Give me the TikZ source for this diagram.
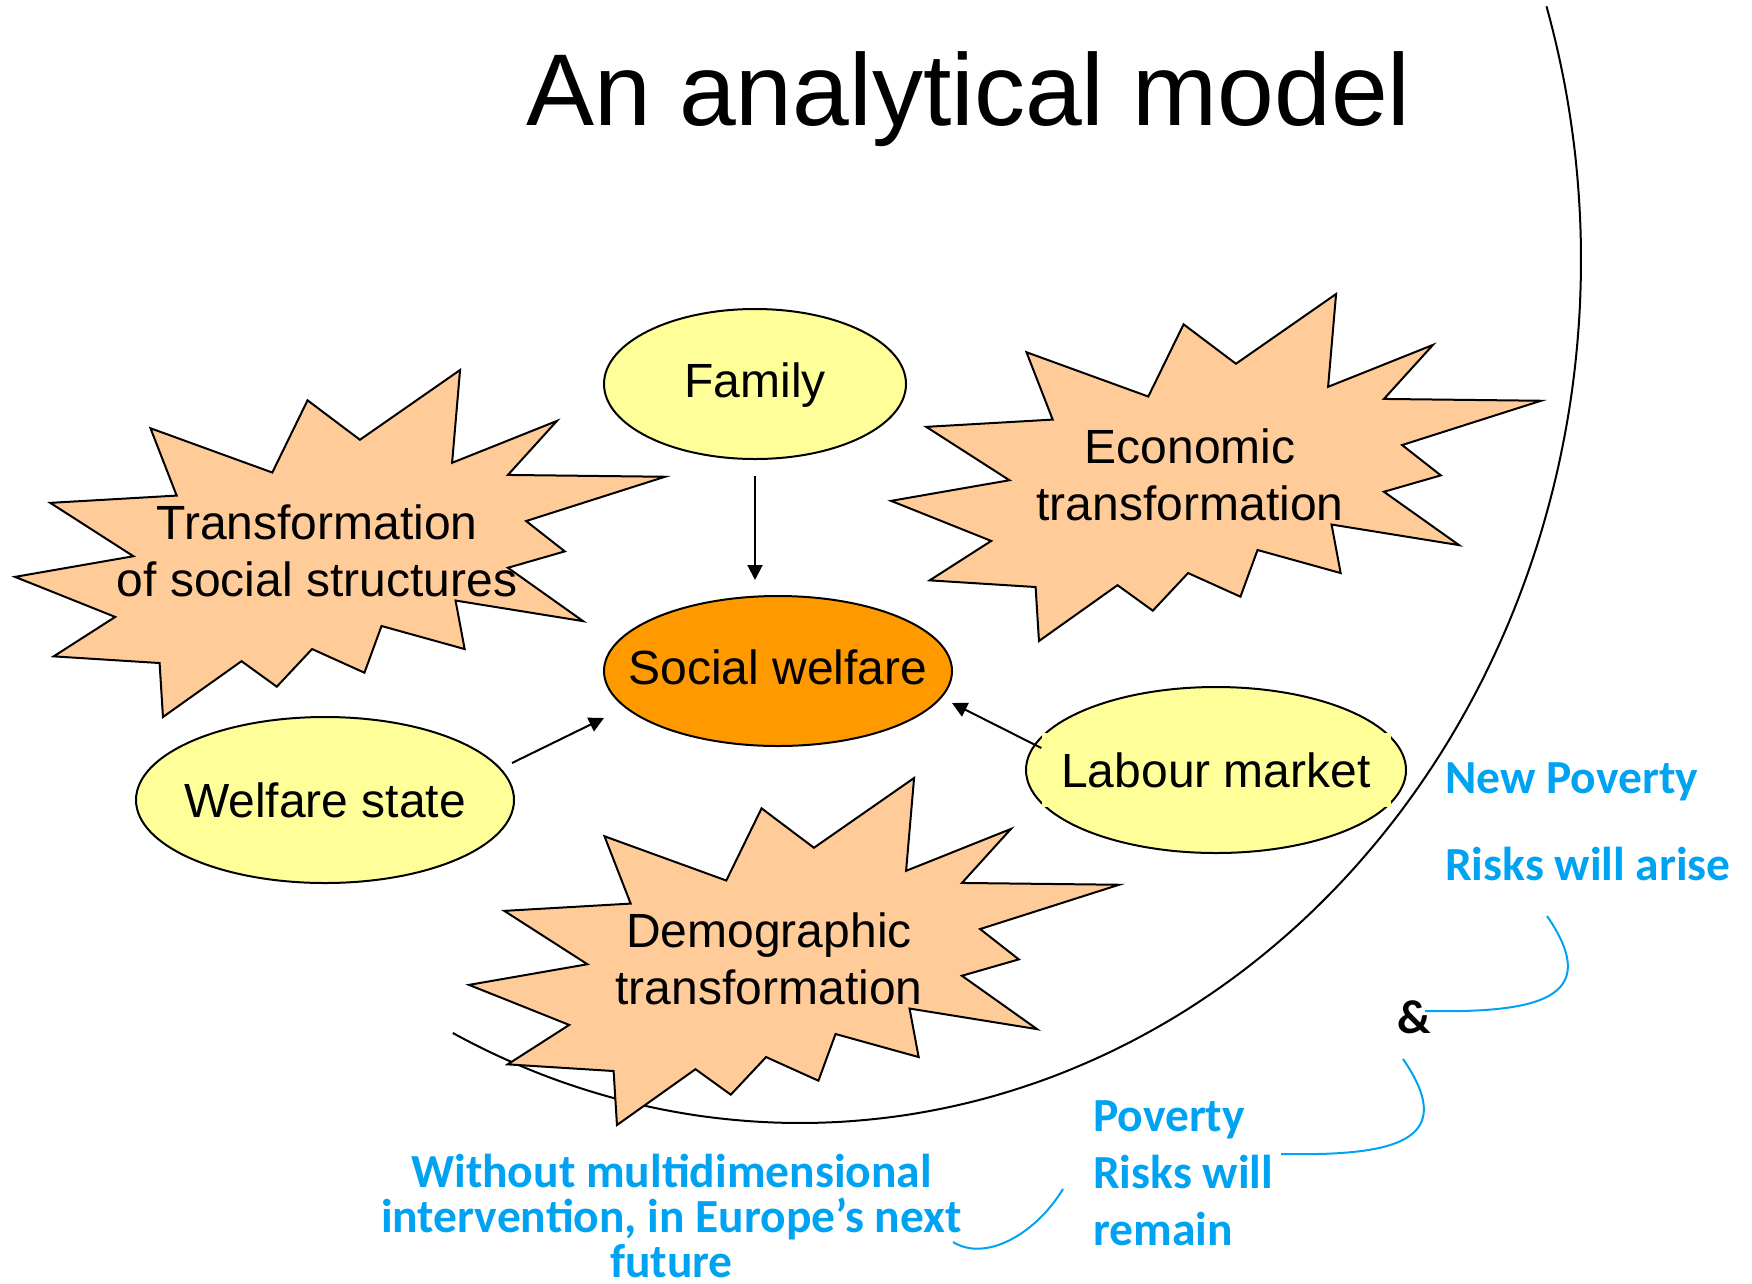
\documentclass[tikz,border=0pt]{standalone}
\usepackage{fontspec}
\setmainfont{Liberation Sans}
\newfontfamily\calib{Carlito}
\usetikzlibrary{shapes.geometric,arrows.meta,calc}
\definecolor{ylw}{HTML}{FFFF99}
\definecolor{orng}{HTML}{FF9900}
\definecolor{peach}{HTML}{FFCC99}
\definecolor{skyb}{HTML}{00A3F2}
\newcommand\lineC[1]{\hbox to 0pt{\hss#1\hss}}
\newcommand\lineL[1]{\hbox{#1}}
\begin{document}
\begin{tikzpicture}[x=1pt,y=-1pt,
  bubble/.style={ellipse, draw, line width=2pt, fill=ylw, inner sep=0pt,
    text height=34.4pt, text depth=0pt, font=\fontsize{48}{57}\selectfont},
  lbl/.style={inner sep=0pt, font=\fontsize{48}{57}\selectfont},
  conn/.style={line width=2pt, -{Triangle[length=15pt,width=15pt]}},
  bluetxt/.style={inner sep=0pt, text=skyb, font=\calib\bfseries\fontsize{47.5}{57}\selectfont},
  bluecurve/.style={draw=skyb, line width=2pt},
  explosion/.pic={\draw[line width=2pt, fill=peach, line join=miter]
    (114.62,43.42) -- (147.90,0) -- (145.25,57.77) -- (180.07,31.72) -- (163.80,65.32)
    -- (216,66.45) -- (169.85,94.02) -- (182.70,112.90) -- (163.80,123.10) -- (188.77,156.32)
    -- (146.40,143.50) -- (149.42,173.70) -- (121.80,159.35) -- (116.12,188.42) -- (98.72,173.70)
    -- (87.00,197.12) -- (75.27,181.25) -- (49.17,216) -- (48.05,182.40) -- (12.85,178.25)
    -- (33.30,153.70) -- (0,128.77) -- (39.35,115.92) -- (11.72,82.70) -- (53.72,78.17)
    -- (45.02,36.25) -- (85.50,63.82) -- (97.22,18.87) -- cycle;}
]
\path[fill=white, use as bounding box] (0,0) rectangle (1752,1283);

% title
\node[lbl, anchor=base, font=\fontsize{102}{122}\selectfont] (title) at (968.5,125) {An analytical model};

% big arc
\draw[line width=2pt] plot[domain=-17.1:116.4, samples=160, smooth] ({800+781*cos(\x)},{260+863*sin(\x)});

% explosions
\pic[xscale=3.009259, yscale=1.606481] at (15,370) {explosion};
\pic[xscale=3.009259, yscale=1.606481] at (891,294) {explosion};
\pic[xscale=3.009259, yscale=1.606481] at (469,778) {explosion};

\node[lbl, anchor=base] (tsoc) at (317,539) {\vtop{\lineC{Transformation}\lineC{of social structures}}};
\node[lbl, anchor=base] (econ) at (1190,463) {\vtop{\lineC{Economic}\lineC{transformation}}};
\node[lbl, anchor=base] (demo) at (769,947) {\vtop{\lineC{Demographic}\lineC{transformation}}};

% ellipses
\node[bubble, minimum width=302pt, minimum height=150pt] (fam) at (755,384) {\makebox[0pt]{\raisebox{4pt}{Family}}};
\node[bubble, fill=orng, minimum width=348pt, minimum height=150pt] (sw) at (778,671) {\makebox[0pt]{\raisebox{4pt}{Social welfare}}};
\node[bubble, minimum width=378pt, minimum height=166pt] (ws) at (325,800) {\makebox[0pt]{Welfare state}};
\node[bubble, minimum width=380pt, minimum height=166pt] (lm) at (1216,770) {};
\node[lbl, fill=ylw, minimum width=349pt, minimum height=74pt, text height=34.4pt, text depth=0pt] (lmtext) at (lm.center) {\makebox[0pt]{Labour market}};

% connectors
\draw[conn, shorten <=16pt, shorten >=15pt] (fam.south) -- (fam.south |- sw.north);
\draw[conn] ($(ws.center)+(187,-37)$) -- ($(sw.center)+(-174,47)$);
\draw[conn] ($(lmtext.west)+(0,-22)$) -- ($(sw.center)+(174,32)$);

% blue texts
\node[bluetxt, anchor=base west] (newpov) at (1445,793) {\vtop{\baselineskip=87pt\lineskiplimit=-100pt\lineL{New Poverty}\lineL{Risks will arise}}};
\node[bluetxt, text=black, anchor=base west] (amp) at (1397,1033) {\&};
\node[bluetxt, anchor=base west] (povrem) at (1093,1131) {\vtop{\lineL{Poverty}\lineL{Risks will}\lineL{remain}}};
\node[bluetxt, anchor=base] (without) at (671.5,1187) {\vtop{\baselineskip=45pt\lineskiplimit=-100pt\lineC{Without multidimensional}\lineC{intervention, in Europe’s next}\lineC{future}}};

% blue curves
\coordinate (c1a) at (1547,916);
\coordinate (c1b) at (1425,1011);
\coordinate (c2a) at (1403,1059);
\coordinate (c2b) at (1281,1154);
\coordinate (c3a) at (1063,1189);
\coordinate (c3b) at (953,1242);
\draw[bluecurve] (c1a) .. controls (1605,1000) and (1535,1013) .. (c1b);
\draw[bluecurve] (c2a) .. controls (1461,1143) and (1391,1156) .. (c2b);
\draw[bluecurve] (c3a) .. controls (1035,1235) and (985,1262) .. (c3b);
\end{tikzpicture}
\end{document}
